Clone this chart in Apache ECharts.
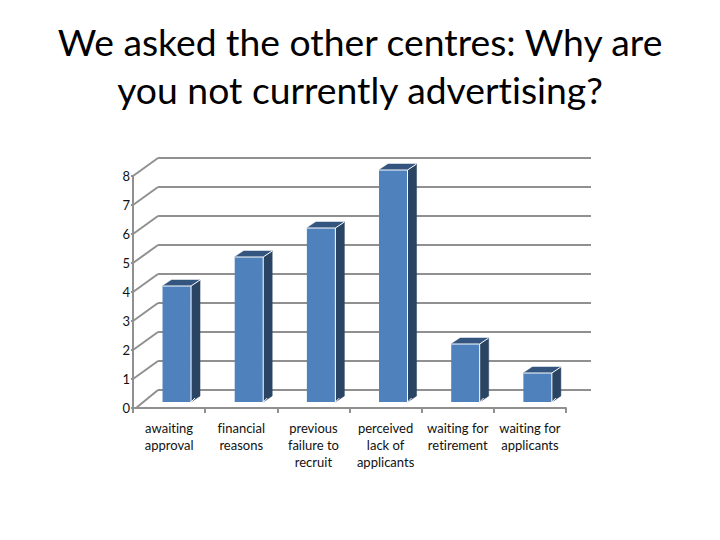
<!DOCTYPE html>
<html><head><meta charset="utf-8">
<style>html,body{margin:0;padding:0;background:#fff}#c{width:720px;height:540px}
#c text{text-rendering:optimizeSpeed;font-variant-ligatures:none !important}</style>
<script src="https://cdn.jsdelivr.net/npm/echarts@6/dist/echarts.min.js"></script>
</head><body><div id="c"></div>
<script>
var titleText = 'We asked the other centres: Why are\nyou not currently advertising?';
var categories = ['awaiting\napproval','financial\nreasons','previous\nfailure to\nrecruit','perceived\nlack of\napplicants','waiting for\nretirement','waiting for\napplicants'];
var values = [4,5,6,8,2,1];
var levels = [0,1,2,3,4,5,6,7,8];

var chart = echarts.init(document.getElementById('c'), null, {renderer:'svg'});
var GREY = '#909090';
function renderDiag(params, api){
  var p = api.coord([0, api.value(0)]);
  var x0 = params.coordSys.x;
  return {type:'line', silent:true, shape:{x1:x0+(api.value(0)===0?3:0), y1:p[1], x2:x0+25, y2:p[1]-18},
    style:{stroke:GREY, lineWidth:2, fill:null}};
}
function renderBar(params, api){
  var p = api.coord([api.value(0), api.value(1)]);
  var b = api.coord([api.value(0), 0]);
  var w = 28.5, dx = 7.5, dy = 6, sx = 8, up = 6;
  var L = p[0]+dx-w/2+0.2, R = L+w, T = p[1]-up, B = b[1]-up;
  var edge = {stroke:'#ffffff', lineWidth:1, fill:null};
  return {type:'group', children:[
    {type:'polygon', shape:{points:[[L,T],[L+sx+1,T-dy],[R+sx+1,T-dy],[R,T]]}, style:{fill:'#33557f', stroke:'#33557f', lineWidth:0.5}},
    {type:'polygon', shape:{points:[[R,T],[R+sx+1,T-dy],[R+sx+1,B-dy],[R,B]]}, style:{fill:'#2a4463', stroke:'#2a4463', lineWidth:0.5}},
    {type:'rect', shape:{x:L,y:T,width:w,height:B-T}, style:{fill:'#4f81bd'}},
    {type:'polyline', shape:{points:[[L,T],[R,T],[R,B]]}, style:edge},
    {type:'polyline', shape:{points:[[R,T],[R+sx+1,T-dy]]}, style:edge},
    {type:'polyline', shape:{points:[[R,B],[R+sx-4,B-4]]}, style:edge}
  ]};
}
chart.setOption({
  animation:false,
  backgroundColor:'#ffffff',
  title:{text:titleText, left:355, top:12, textAlign:'center',
    textStyle:{fontFamily:'Lato', fontWeight:'normal', fontSize:37.3, lineHeight:48, color:'#000000'}},
  grid:[
    {left:158, right:129, top:158, height:232},
    {left:133, width:433, top:176, height:232}
  ],
  xAxis:[
    {gridIndex:0, type:'category', data:categories, show:false},
    {gridIndex:1, type:'category', data:categories,
      axisLine:{lineStyle:{color:GREY,width:2}},
      axisTick:{show:true, length:5, lineStyle:{color:GREY,width:2}},
      axisLabel:{interval:0, margin:11, fontFamily:'Lato', fontSize:13, lineHeight:17, color:'#111111'}}
  ],
  yAxis:[
    {gridIndex:0, type:'value', min:0, max:8, interval:1, axisLabel:{show:false}, axisLine:{show:false}, axisTick:{show:false},
      splitLine:{show:true, lineStyle:{color:GREY,width:2}}},
    {gridIndex:1, type:'value', min:0, max:8, interval:1,
      splitLine:{show:false},
      axisLine:{show:true, lineStyle:{color:GREY,width:2}},
      axisTick:{show:true, length:2, lineStyle:{color:GREY,width:2}},
      axisLabel:{margin:3, fontFamily:'Lato', fontSize:13, color:'#111111'}}
  ],
  series:[
    {type:'custom', xAxisIndex:1, yAxisIndex:1, z:2, clip:false, silent:true,
      data:levels.map(function(v){return [v];}), encode:{y:0}, renderItem:renderDiag},
    {type:'custom', xAxisIndex:1, yAxisIndex:1, z:5, clip:false, silent:true,
      data:values.map(function(v,i){return [i,v];}), encode:{x:0,y:1}, renderItem:renderBar}
  ]
});
</script></body></html>
